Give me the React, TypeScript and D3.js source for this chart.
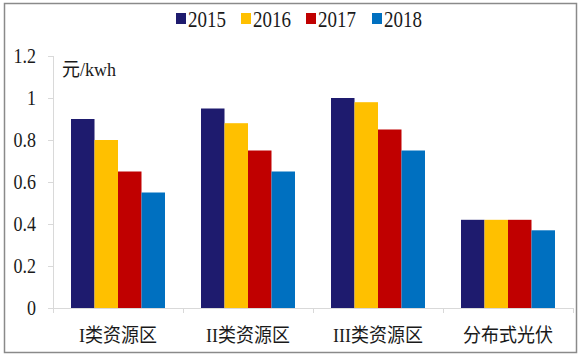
import React from "react";
import * as d3 from "d3";

const categories = ["I类资源区", "II类资源区", "III类资源区", "分布式光伏"];
const years = ["2015", "2016", "2017", "2018"];
const s2015 = [0.9, 0.95, 1.0, 0.42];
const s2016 = [0.8, 0.88, 0.98, 0.42];
const s2017 = [0.65, 0.75, 0.85, 0.42];
const s2018 = [0.55, 0.65, 0.75, 0.37];
const seriesValues = [s2015, s2016, s2017, s2018];
const colors = ["#1E1B6E", "#FFC000", "#C00000", "#0070C0"];
const yTicks = [0, 0.2, 0.4, 0.6, 0.8, 1, 1.2];
const unitLabel = "元/kwh";

const FONT = "'Liberation Serif', 'DejaVu Serif', 'Noto Sans CJK SC', serif";

function T(props: { x: number; y: number; size: number; sy?: number; anchor?: string; children: React.ReactNode }) {
  const sy = props.sy ?? 1.18;
  return (
    <text
      transform={`translate(${props.x},${props.y}) scale(1,${sy})`}
      textAnchor={props.anchor ?? "start"}
      style={{ fontFamily: FONT }}
      fontSize={props.size}
      fill="#1a1a1a"
    >
      {props.children}
    </text>
  );
}

export default function App() {
  const W = 585, H = 358;
  const x0 = 53, x1 = 573, yBottom = 308, yTop = 56;
  const x = d3.scaleBand<string>().domain(categories).range([x0, x1]).paddingInner(0.277).paddingOuter(0.1385);
  const xs = d3.scaleBand<string>().domain(years).range([0, x.bandwidth()]).padding(0);
  const y = d3.scaleLinear().domain([0, 1.2]).range([yBottom, yTop]);
  const step = x.step();
  const axisColor = "#D9D9D9";
  const legendX = [176, 241, 306, 372];

  return (
    <svg width={W} height={H} style={{ position: "absolute", left: 0, top: 0, background: "#fff" }}>
      <rect x={4.5} y={3.5} width={572} height={349} fill="#fff" stroke="#8a8a8a" strokeWidth={1.5} />
      {/* legend */}
      {years.map((yr, i) => (
        <g key={yr}>
          <rect x={legendX[i]} y={13} width={10} height={11} fill={colors[i]} />
          <T x={legendX[i] + 12} y={26.5} size={19}>{yr}</T>
        </g>
      ))}
      {/* y axis */}
      <line x1={x0 + 0.5} x2={x0 + 0.5} y1={yTop} y2={yBottom} stroke={axisColor} />
      {yTicks.map((t) => (
        <g key={t}>
          <line x1={x0 - 5} x2={x0} y1={Math.round(y(t)) + 0.5} y2={Math.round(y(t)) + 0.5} stroke={axisColor} />
          <T x={36} y={y(t) + 7} size={18} anchor="end">{d3.format("~g")(t)}</T>
        </g>
      ))}
      <T x={62} y={76} size={18} sy={1.1}>{unitLabel}</T>
      {/* bars */}
      {categories.map((c, ci) => (
        <g key={c}>
          {years.map((yr, si) => {
            const v = seriesValues[si][ci];
            return (
              <rect key={yr} x={(x(c) as number) + (xs(yr) as number)} y={y(v)} width={xs.bandwidth()} height={yBottom - y(v)} fill={colors[si]} />
            );
          })}
        </g>
      ))}
      {/* x axis */}
      <line x1={x0} x2={x1} y1={yBottom + 0.5} y2={yBottom + 0.5} stroke={axisColor} />
      {d3.range(categories.length + 1).map((i) => (
        <line key={i} x1={x0 + i * step + 0.5} x2={x0 + i * step + 0.5} y1={yBottom} y2={yBottom + 5} stroke={axisColor} />
      ))}
      {categories.map((c) => (
        <T key={c} x={(x(c) as number) + x.bandwidth() / 2} y={342} size={18} sy={1.1} anchor="middle">{c}</T>
      ))}
    </svg>
  );
}
